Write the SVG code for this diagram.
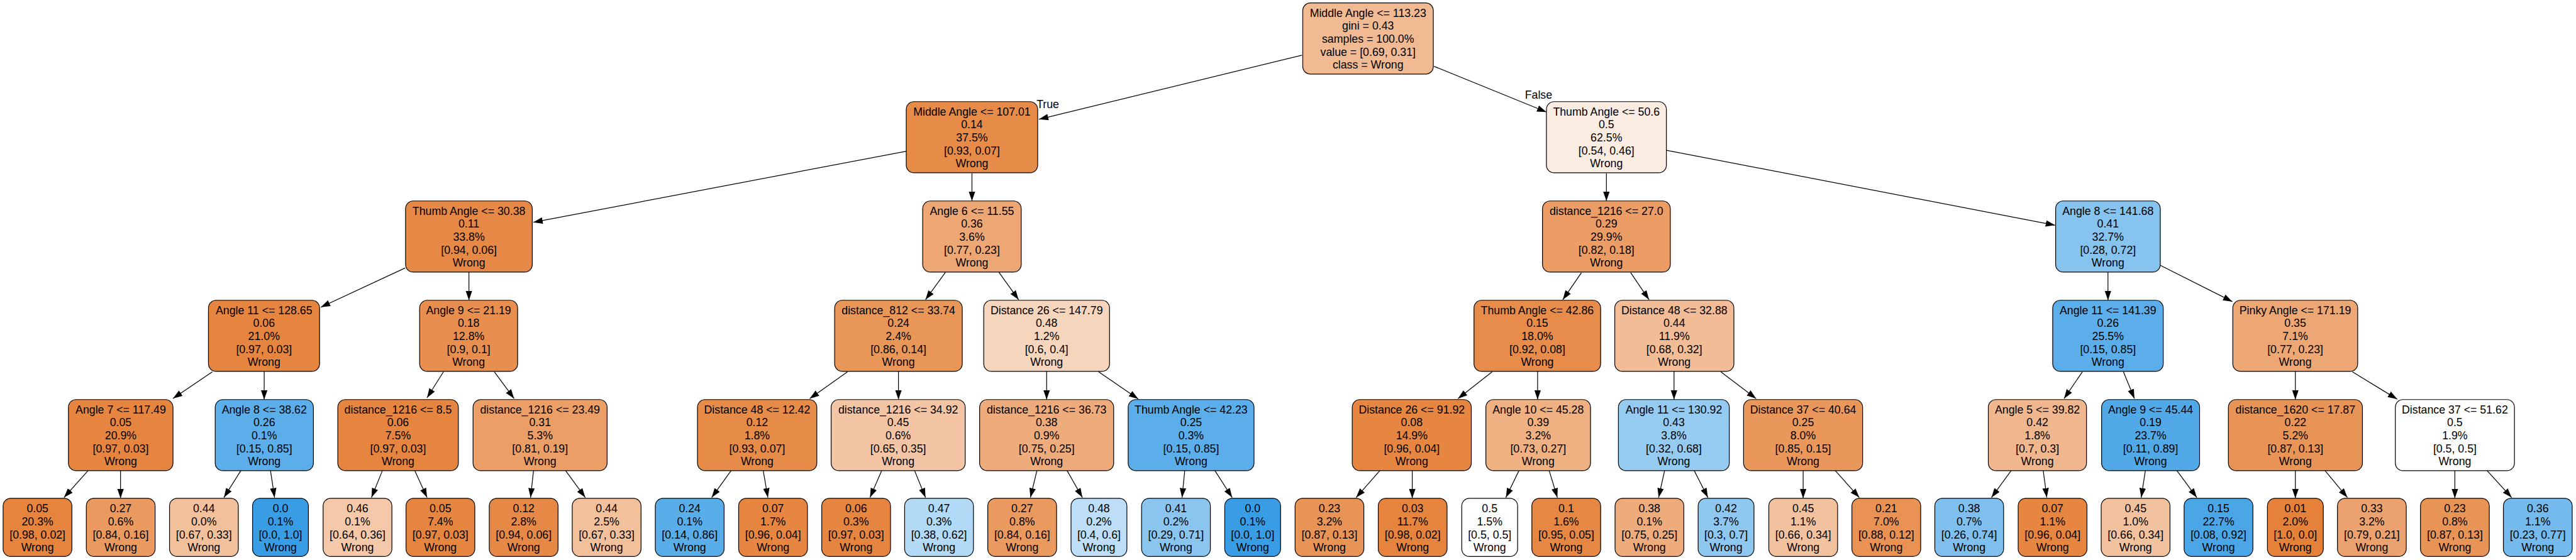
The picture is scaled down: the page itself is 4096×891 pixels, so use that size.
<svg xmlns="http://www.w3.org/2000/svg" width="4096" height="891" viewBox="0 0 4096 891">
<style>
.nd rect{stroke:#000;stroke-width:1.3}
text{font-family:"Liberation Sans",Arial,Helvetica,sans-serif;font-size:19px;fill:#000;text-anchor:middle}
.ed line{stroke:#000;stroke-width:1.3;marker-end:url(#ah)}
</style>
<defs>
<marker id="ah" markerUnits="userSpaceOnUse" markerWidth="17" markerHeight="12" refX="16" refY="5.5" orient="auto"><path d="M0,0 L16,5.5 L0,11 z" fill="#000"/></marker>
</defs>
<rect width="4096" height="891" fill="#fff"/>
<g transform="scale(0.93495)">
<g class="ed" id="connectors">
<line x1="2214.2" y1="94" x2="1767" y2="203"/>
<line x1="2439" y1="113" x2="2630" y2="190.7"/>
<line x1="1541.5" y1="257.3" x2="907" y2="378.3"/>
<line x1="1653" y1="295" x2="1653" y2="342"/>
<line x1="2732" y1="295" x2="2732" y2="342"/>
<line x1="2834" y1="255.7" x2="3495" y2="383.3"/>
<line x1="689" y1="456" x2="545.6" y2="522.7"/>
<line x1="797.5" y1="463" x2="797.5" y2="511"/>
<line x1="1608" y1="463.3" x2="1574" y2="510"/>
<line x1="1698.8" y1="463.3" x2="1732.3" y2="510"/>
<line x1="2689.5" y1="464" x2="2657.9" y2="510"/>
<line x1="2773.3" y1="464" x2="2804.5" y2="510"/>
<line x1="3585" y1="463" x2="3585" y2="511"/>
<line x1="3674.2" y1="451.7" x2="3796.6" y2="513.3"/>
<line x1="361.3" y1="632.7" x2="294.2" y2="678"/>
<line x1="449.3" y1="632" x2="449.3" y2="680"/>
<line x1="754.2" y1="632.7" x2="726.3" y2="677"/>
<line x1="840.8" y1="632.7" x2="874.3" y2="678.3"/>
<line x1="1441.4" y1="632.7" x2="1377.1" y2="678.3"/>
<line x1="1528" y1="632" x2="1528" y2="680"/>
<line x1="1780" y1="632" x2="1780" y2="680"/>
<line x1="1868.3" y1="632.7" x2="1935.8" y2="679"/>
<line x1="2537.8" y1="632.7" x2="2479.6" y2="678.3"/>
<line x1="2615" y1="632" x2="2615" y2="680"/>
<line x1="2847" y1="632" x2="2847" y2="680"/>
<line x1="2926.5" y1="632.7" x2="2986.6" y2="678.3"/>
<line x1="3541.5" y1="632.7" x2="3510.3" y2="678.3"/>
<line x1="3611.3" y1="632.7" x2="3630" y2="678.3"/>
<line x1="3903.7" y1="632" x2="3903.7" y2="680"/>
<line x1="4000.6" y1="632.7" x2="4076.9" y2="679.3"/>
<line x1="149.9" y1="800.7" x2="108.9" y2="846.7"/>
<line x1="205" y1="801" x2="205" y2="848"/>
<line x1="409.7" y1="800.7" x2="380.8" y2="846.7"/>
<line x1="460" y1="800.7" x2="467" y2="846.7"/>
<line x1="650.4" y1="800.7" x2="631.8" y2="846.7"/>
<line x1="705.3" y1="800.7" x2="726.3" y2="846.7"/>
<line x1="907.4" y1="800.7" x2="902.3" y2="846.7"/>
<line x1="961.8" y1="800.7" x2="995.4" y2="846.7"/>
<line x1="1243.5" y1="800.7" x2="1210.4" y2="846.7"/>
<line x1="1298" y1="800.7" x2="1305.9" y2="846.7"/>
<line x1="1499.6" y1="800.7" x2="1479.6" y2="846.7"/>
<line x1="1555.4" y1="800.7" x2="1574" y2="846.7"/>
<line x1="1763.5" y1="800.7" x2="1752.4" y2="846.7"/>
<line x1="1814.7" y1="800.7" x2="1840.8" y2="846.7"/>
<line x1="2014.9" y1="800.7" x2="2010.3" y2="846.7"/>
<line x1="2066.1" y1="800.7" x2="2095.5" y2="846.7"/>
<line x1="2346.9" y1="800.7" x2="2306.4" y2="846.7"/>
<line x1="2401.8" y1="801" x2="2401.8" y2="848"/>
<line x1="2583.4" y1="800.7" x2="2561" y2="846.7"/>
<line x1="2634.6" y1="800.7" x2="2648.6" y2="846.7"/>
<line x1="2831" y1="800.7" x2="2820.8" y2="846.7"/>
<line x1="2881.3" y1="800.7" x2="2904.6" y2="846.7"/>
<line x1="3066.6" y1="801" x2="3066.6" y2="848"/>
<line x1="3121.1" y1="800.7" x2="3162.1" y2="846.7"/>
<line x1="3420.5" y1="800.7" x2="3386.9" y2="846.7"/>
<line x1="3474.9" y1="800.7" x2="3481" y2="846.7"/>
<line x1="3648.6" y1="800.7" x2="3641.6" y2="846.7"/>
<line x1="3702.1" y1="800.7" x2="3736.1" y2="846.7"/>
<line x1="3903.7" y1="801" x2="3903.7" y2="848"/>
<line x1="3954" y1="800.7" x2="3992.2" y2="846.7"/>
<line x1="4175" y1="801" x2="4175" y2="848"/>
<line x1="4229.6" y1="800.7" x2="4271.5" y2="846.7"/>
<text x="1782" y="184.5">True</text>
<text x="2616.6" y="167.8">False</text>
</g>

<g class="nd" id="n0"><rect x="2215.6" y="5" width="222" height="121" rx="13" fill="#f1ba92"/><text y="28.6"><tspan x="2326.6">Middle Angle &lt;= 113.23</tspan><tspan x="2326.6" dy="22.1">gini = 0.43</tspan><tspan x="2326.6" dy="22.1">samples = 100.0%</tspan><tspan x="2326.6" dy="22.1">value = [0.69, 0.31]</tspan><tspan x="2326.6" dy="22.1">class = Wrong</tspan></text></g>

<g class="nd" id="n1"><rect x="1541.25" y="173" width="223.5" height="121" rx="13" fill="#e78b48"/><text y="196.6"><tspan x="1653">Middle Angle &lt;= 107.01</tspan><tspan x="1653" dy="22.1">0.14</tspan><tspan x="1653" dy="22.1">37.5%</tspan><tspan x="1653" dy="22.1">[0.93, 0.07]</tspan><tspan x="1653" dy="22.1">Wrong</tspan></text></g>
<g class="nd" id="n2"><rect x="2630" y="173" width="204" height="121" rx="13" fill="#fbece2"/><text y="196.6"><tspan x="2732">Thumb Angle &lt;= 50.6</tspan><tspan x="2732" dy="22.1">0.5</tspan><tspan x="2732" dy="22.1">62.5%</tspan><tspan x="2732" dy="22.1">[0.54, 0.46]</tspan><tspan x="2732" dy="22.1">Wrong</tspan></text></g>

<g class="nd" id="n3"><rect x="689.75" y="342" width="215.5" height="121" rx="13" fill="#e78946"/><text y="365.6"><tspan x="797.5">Thumb Angle &lt;= 30.38</tspan><tspan x="797.5" dy="22.1">0.11</tspan><tspan x="797.5" dy="22.1">33.8%</tspan><tspan x="797.5" dy="22.1">[0.94, 0.06]</tspan><tspan x="797.5" dy="22.1">Wrong</tspan></text></g>
<g class="nd" id="n4"><rect x="1569.2" y="342" width="167.6" height="121" rx="13" fill="#eda774"/><text y="365.6"><tspan x="1653">Angle 6 &lt;= 11.55</tspan><tspan x="1653" dy="22.1">0.36</tspan><tspan x="1653" dy="22.1">3.6%</tspan><tspan x="1653" dy="22.1">[0.77, 0.23]</tspan><tspan x="1653" dy="22.1">Wrong</tspan></text></g>
<g class="nd" id="n5"><rect x="2623.3" y="342" width="217.4" height="121" rx="13" fill="#eb9d65"/><text y="365.6"><tspan x="2732">distance_1216 &lt;= 27.0</tspan><tspan x="2732" dy="22.1">0.29</tspan><tspan x="2732" dy="22.1">29.9%</tspan><tspan x="2732" dy="22.1">[0.82, 0.18]</tspan><tspan x="2732" dy="22.1">Wrong</tspan></text></g>
<g class="nd" id="n6"><rect x="3496" y="342" width="178" height="121" rx="13" fill="#86c3ef"/><text y="365.6"><tspan x="3585">Angle 8 &lt;= 141.68</tspan><tspan x="3585" dy="22.1">0.41</tspan><tspan x="3585" dy="22.1">32.7%</tspan><tspan x="3585" dy="22.1">[0.28, 0.72]</tspan><tspan x="3585" dy="22.1">Wrong</tspan></text></g>

<g class="nd" id="n7"><rect x="354.5" y="511" width="189" height="121" rx="13" fill="#e6853f"/><text y="534.6"><tspan x="449">Angle 11 &lt;= 128.65</tspan><tspan x="449" dy="22.1">0.06</tspan><tspan x="449" dy="22.1">21.0%</tspan><tspan x="449" dy="22.1">[0.97, 0.03]</tspan><tspan x="449" dy="22.1">Wrong</tspan></text></g>
<g class="nd" id="n8"><rect x="713.65" y="511" width="166.7" height="121" rx="13" fill="#e88f4f"/><text y="534.6"><tspan x="797">Angle 9 &lt;= 21.19</tspan><tspan x="797" dy="22.1">0.18</tspan><tspan x="797" dy="22.1">12.8%</tspan><tspan x="797" dy="22.1">[0.9, 0.1]</tspan><tspan x="797" dy="22.1">Wrong</tspan></text></g>
<g class="nd" id="n9"><rect x="1419.5" y="511" width="217" height="121" rx="13" fill="#e99659"/><text y="534.6"><tspan x="1528">distance_812 &lt;= 33.74</tspan><tspan x="1528" dy="22.1">0.24</tspan><tspan x="1528" dy="22.1">2.4%</tspan><tspan x="1528" dy="22.1">[0.86, 0.14]</tspan><tspan x="1528" dy="22.1">Wrong</tspan></text></g>
<g class="nd" id="n10"><rect x="1673" y="511" width="214" height="121" rx="13" fill="#f6d5bd"/><text y="534.6"><tspan x="1780">Distance 26 &lt;= 147.79</tspan><tspan x="1780" dy="22.1">0.48</tspan><tspan x="1780" dy="22.1">1.2%</tspan><tspan x="1780" dy="22.1">[0.6, 0.4]</tspan><tspan x="1780" dy="22.1">Wrong</tspan></text></g>
<g class="nd" id="n11"><rect x="2506.8" y="511" width="215.4" height="121" rx="13" fill="#e78c4a"/><text y="534.6"><tspan x="2614.5">Thumb Angle &lt;= 42.86</tspan><tspan x="2614.5" dy="22.1">0.15</tspan><tspan x="2614.5" dy="22.1">18.0%</tspan><tspan x="2614.5" dy="22.1">[0.92, 0.08]</tspan><tspan x="2614.5" dy="22.1">Wrong</tspan></text></g>
<g class="nd" id="n12"><rect x="2746.2" y="511" width="202.6" height="121" rx="13" fill="#f1bc96"/><text y="534.6"><tspan x="2847.5">Distance 48 &lt;= 32.88</tspan><tspan x="2847.5" dy="22.1">0.44</tspan><tspan x="2847.5" dy="22.1">11.9%</tspan><tspan x="2847.5" dy="22.1">[0.68, 0.32]</tspan><tspan x="2847.5" dy="22.1">Wrong</tspan></text></g>
<g class="nd" id="n13"><rect x="3491" y="511" width="188" height="121" rx="13" fill="#5caeea"/><text y="534.6"><tspan x="3585">Angle 11 &lt;= 141.39</tspan><tspan x="3585" dy="22.1">0.26</tspan><tspan x="3585" dy="22.1">25.5%</tspan><tspan x="3585" dy="22.1">[0.15, 0.85]</tspan><tspan x="3585" dy="22.1">Wrong</tspan></text></g>
<g class="nd" id="n14"><rect x="3797.3" y="511" width="212.4" height="121" rx="13" fill="#eda774"/><text y="534.6"><tspan x="3903.5">Pinky Angle &lt;= 171.19</tspan><tspan x="3903.5" dy="22.1">0.35</tspan><tspan x="3903.5" dy="22.1">7.1%</tspan><tspan x="3903.5" dy="22.1">[0.77, 0.23]</tspan><tspan x="3903.5" dy="22.1">Wrong</tspan></text></g>

<g class="nd" id="n15"><rect x="116.4" y="680" width="177.8" height="121" rx="13" fill="#e6853f"/><text y="703.6"><tspan x="205.3">Angle 7 &lt;= 117.49</tspan><tspan x="205.3" dy="22.1">0.05</tspan><tspan x="205.3" dy="22.1">20.9%</tspan><tspan x="205.3" dy="22.1">[0.97, 0.03]</tspan><tspan x="205.3" dy="22.1">Wrong</tspan></text></g>
<g class="nd" id="n16"><rect x="366" y="680" width="167" height="121" rx="13" fill="#5caeea"/><text y="703.6"><tspan x="449.5">Angle 8 &lt;= 38.62</tspan><tspan x="449.5" dy="22.1">0.26</tspan><tspan x="449.5" dy="22.1">0.1%</tspan><tspan x="449.5" dy="22.1">[0.15, 0.85]</tspan><tspan x="449.5" dy="22.1">Wrong</tspan></text></g>
<g class="nd" id="n17"><rect x="574.5" y="680" width="205" height="121" rx="13" fill="#e6853f"/><text y="703.6"><tspan x="677">distance_1216 &lt;= 8.5</tspan><tspan x="677" dy="22.1">0.06</tspan><tspan x="677" dy="22.1">7.5%</tspan><tspan x="677" dy="22.1">[0.97, 0.03]</tspan><tspan x="677" dy="22.1">Wrong</tspan></text></g>
<g class="nd" id="n18"><rect x="804.5" y="680" width="228" height="121" rx="13" fill="#eb9f67"/><text y="703.6"><tspan x="918.5">distance_1216 &lt;= 23.49</tspan><tspan x="918.5" dy="22.1">0.31</tspan><tspan x="918.5" dy="22.1">5.3%</tspan><tspan x="918.5" dy="22.1">[0.81, 0.19]</tspan><tspan x="918.5" dy="22.1">Wrong</tspan></text></g>
<g class="nd" id="n19"><rect x="1186.2" y="680" width="203" height="121" rx="13" fill="#e78b48"/><text y="703.6"><tspan x="1287.7">Distance 48 &lt;= 12.42</tspan><tspan x="1287.7" dy="22.1">0.12</tspan><tspan x="1287.7" dy="22.1">1.8%</tspan><tspan x="1287.7" dy="22.1">[0.93, 0.07]</tspan><tspan x="1287.7" dy="22.1">Wrong</tspan></text></g>
<g class="nd" id="n20"><rect x="1413.5" y="680" width="228" height="121" rx="13" fill="#f3c5a4"/><text y="703.6"><tspan x="1527.5">distance_1216 &lt;= 34.92</tspan><tspan x="1527.5" dy="22.1">0.45</tspan><tspan x="1527.5" dy="22.1">0.6%</tspan><tspan x="1527.5" dy="22.1">[0.65, 0.35]</tspan><tspan x="1527.5" dy="22.1">Wrong</tspan></text></g>
<g class="nd" id="n21"><rect x="1666" y="680" width="228" height="121" rx="13" fill="#eeab7b"/><text y="703.6"><tspan x="1780">distance_1216 &lt;= 36.73</tspan><tspan x="1780" dy="22.1">0.38</tspan><tspan x="1780" dy="22.1">0.9%</tspan><tspan x="1780" dy="22.1">[0.75, 0.25]</tspan><tspan x="1780" dy="22.1">Wrong</tspan></text></g>
<g class="nd" id="n22"><rect x="1918.7" y="680" width="214" height="121" rx="13" fill="#5caeea"/><text y="703.6"><tspan x="2025.7">Thumb Angle &lt;= 42.23</tspan><tspan x="2025.7" dy="22.1">0.25</tspan><tspan x="2025.7" dy="22.1">0.3%</tspan><tspan x="2025.7" dy="22.1">[0.15, 0.85]</tspan><tspan x="2025.7" dy="22.1">Wrong</tspan></text></g>
<g class="nd" id="n23"><rect x="2299.75" y="680" width="202.5" height="121" rx="13" fill="#e68641"/><text y="703.6"><tspan x="2401">Distance 26 &lt;= 91.92</tspan><tspan x="2401" dy="22.1">0.08</tspan><tspan x="2401" dy="22.1">14.9%</tspan><tspan x="2401" dy="22.1">[0.96, 0.04]</tspan><tspan x="2401" dy="22.1">Wrong</tspan></text></g>
<g class="nd" id="n24"><rect x="2527" y="680" width="178" height="121" rx="13" fill="#efb082"/><text y="703.6"><tspan x="2616">Angle 10 &lt;= 45.28</tspan><tspan x="2616" dy="22.1">0.39</tspan><tspan x="2616" dy="22.1">3.2%</tspan><tspan x="2616" dy="22.1">[0.73, 0.27]</tspan><tspan x="2616" dy="22.1">Wrong</tspan></text></g>
<g class="nd" id="n25"><rect x="2752.4" y="680" width="188.6" height="121" rx="13" fill="#96cbf1"/><text y="703.6"><tspan x="2846.7">Angle 11 &lt;= 130.92</tspan><tspan x="2846.7" dy="22.1">0.43</tspan><tspan x="2846.7" dy="22.1">3.8%</tspan><tspan x="2846.7" dy="22.1">[0.32, 0.68]</tspan><tspan x="2846.7" dy="22.1">Wrong</tspan></text></g>
<g class="nd" id="n26"><rect x="2965.25" y="680" width="202.5" height="121" rx="13" fill="#ea975c"/><text y="703.6"><tspan x="3066.5">Distance 37 &lt;= 40.64</tspan><tspan x="3066.5" dy="22.1">0.25</tspan><tspan x="3066.5" dy="22.1">8.0%</tspan><tspan x="3066.5" dy="22.1">[0.85, 0.15]</tspan><tspan x="3066.5" dy="22.1">Wrong</tspan></text></g>
<g class="nd" id="n27"><rect x="3381.5" y="680" width="167" height="121" rx="13" fill="#f0b78e"/><text y="703.6"><tspan x="3465">Angle 5 &lt;= 39.82</tspan><tspan x="3465" dy="22.1">0.42</tspan><tspan x="3465" dy="22.1">1.8%</tspan><tspan x="3465" dy="22.1">[0.7, 0.3]</tspan><tspan x="3465" dy="22.1">Wrong</tspan></text></g>
<g class="nd" id="n28"><rect x="3574.15" y="680" width="166.7" height="121" rx="13" fill="#52a9e8"/><text y="703.6"><tspan x="3657.5">Angle 9 &lt;= 45.44</tspan><tspan x="3657.5" dy="22.1">0.19</tspan><tspan x="3657.5" dy="22.1">23.7%</tspan><tspan x="3657.5" dy="22.1">[0.11, 0.89]</tspan><tspan x="3657.5" dy="22.1">Wrong</tspan></text></g>
<g class="nd" id="n29"><rect x="3789.8" y="680" width="228" height="121" rx="13" fill="#e99457"/><text y="703.6"><tspan x="3903.8">distance_1620 &lt;= 17.87</tspan><tspan x="3903.8" dy="22.1">0.22</tspan><tspan x="3903.8" dy="22.1">5.2%</tspan><tspan x="3903.8" dy="22.1">[0.87, 0.13]</tspan><tspan x="3903.8" dy="22.1">Wrong</tspan></text></g>
<g class="nd" id="n30"><rect x="4073.7" y="680" width="202.6" height="121" rx="13" fill="#ffffff"/><text y="703.6"><tspan x="4175">Distance 37 &lt;= 51.62</tspan><tspan x="4175" dy="22.1">0.5</tspan><tspan x="4175" dy="22.1">1.9%</tspan><tspan x="4175" dy="22.1">[0.5, 0.5]</tspan><tspan x="4175" dy="22.1">Wrong</tspan></text></g>

<g class="nd" id="l1"><rect x="5.3" y="848" width="117" height="99" rx="13" fill="#e6843d"/><text y="872.2"><tspan x="63.8">0.05</tspan><tspan x="63.8" dy="22.1">20.3%</tspan><tspan x="63.8" dy="22.1">[0.98, 0.02]</tspan><tspan x="63.8" dy="22.1">Wrong</tspan></text></g>
<g class="nd" id="l2"><rect x="146.8" y="848" width="117" height="99" rx="13" fill="#ea995f"/><text y="872.2"><tspan x="205.3">0.27</tspan><tspan x="205.3" dy="22.1">0.6%</tspan><tspan x="205.3" dy="22.1">[0.84, 0.16]</tspan><tspan x="205.3" dy="22.1">Wrong</tspan></text></g>
<g class="nd" id="l3"><rect x="288.3" y="848" width="117" height="99" rx="13" fill="#f2c09b"/><text y="872.2"><tspan x="346.8">0.44</tspan><tspan x="346.8" dy="22.1">0.0%</tspan><tspan x="346.8" dy="22.1">[0.67, 0.33]</tspan><tspan x="346.8" dy="22.1">Wrong</tspan></text></g>
<g class="nd" id="l4"><rect x="429.5" y="848" width="95" height="99" rx="13" fill="#399de5"/><text y="872.2"><tspan x="477">0.0</tspan><tspan x="477" dy="22.1">0.1%</tspan><tspan x="477" dy="22.1">[0.0, 1.0]</tspan><tspan x="477" dy="22.1">Wrong</tspan></text></g>
<g class="nd" id="l5"><rect x="549.5" y="848" width="117" height="99" rx="13" fill="#f4c8a8"/><text y="872.2"><tspan x="608">0.46</tspan><tspan x="608" dy="22.1">0.1%</tspan><tspan x="608" dy="22.1">[0.64, 0.36]</tspan><tspan x="608" dy="22.1">Wrong</tspan></text></g>
<g class="nd" id="l6"><rect x="690.5" y="848" width="117" height="99" rx="13" fill="#e6853f"/><text y="872.2"><tspan x="749">0.05</tspan><tspan x="749" dy="22.1">7.4%</tspan><tspan x="749" dy="22.1">[0.97, 0.03]</tspan><tspan x="749" dy="22.1">Wrong</tspan></text></g>
<g class="nd" id="l7"><rect x="832.1" y="848" width="117" height="99" rx="13" fill="#e78946"/><text y="872.2"><tspan x="890.6">0.12</tspan><tspan x="890.6" dy="22.1">2.8%</tspan><tspan x="890.6" dy="22.1">[0.94, 0.06]</tspan><tspan x="890.6" dy="22.1">Wrong</tspan></text></g>
<g class="nd" id="l8"><rect x="973.2" y="848" width="117" height="99" rx="13" fill="#f2c09b"/><text y="872.2"><tspan x="1031.7">0.44</tspan><tspan x="1031.7" dy="22.1">2.5%</tspan><tspan x="1031.7" dy="22.1">[0.67, 0.33]</tspan><tspan x="1031.7" dy="22.1">Wrong</tspan></text></g>
<g class="nd" id="l9"><rect x="1114.5" y="848" width="117" height="99" rx="13" fill="#59ade9"/><text y="872.2"><tspan x="1173">0.24</tspan><tspan x="1173" dy="22.1">0.1%</tspan><tspan x="1173" dy="22.1">[0.14, 0.86]</tspan><tspan x="1173" dy="22.1">Wrong</tspan></text></g>
<g class="nd" id="l10"><rect x="1256.2" y="848" width="117" height="99" rx="13" fill="#e68641"/><text y="872.2"><tspan x="1314.7">0.07</tspan><tspan x="1314.7" dy="22.1">1.7%</tspan><tspan x="1314.7" dy="22.1">[0.96, 0.04]</tspan><tspan x="1314.7" dy="22.1">Wrong</tspan></text></g>
<g class="nd" id="l11"><rect x="1397.5" y="848" width="117" height="99" rx="13" fill="#e6853f"/><text y="872.2"><tspan x="1456">0.06</tspan><tspan x="1456" dy="22.1">0.3%</tspan><tspan x="1456" dy="22.1">[0.97, 0.03]</tspan><tspan x="1456" dy="22.1">Wrong</tspan></text></g>
<g class="nd" id="l12"><rect x="1538.5" y="848" width="117" height="99" rx="13" fill="#b2d9f5"/><text y="872.2"><tspan x="1597">0.47</tspan><tspan x="1597" dy="22.1">0.3%</tspan><tspan x="1597" dy="22.1">[0.38, 0.62]</tspan><tspan x="1597" dy="22.1">Wrong</tspan></text></g>
<g class="nd" id="l13"><rect x="1679.9" y="848" width="117" height="99" rx="13" fill="#ea995f"/><text y="872.2"><tspan x="1738.4">0.27</tspan><tspan x="1738.4" dy="22.1">0.8%</tspan><tspan x="1738.4" dy="22.1">[0.84, 0.16]</tspan><tspan x="1738.4" dy="22.1">Wrong</tspan></text></g>
<g class="nd" id="l14"><rect x="1821.5" y="848" width="95" height="99" rx="13" fill="#bddef6"/><text y="872.2"><tspan x="1869">0.48</tspan><tspan x="1869" dy="22.1">0.2%</tspan><tspan x="1869" dy="22.1">[0.4, 0.6]</tspan><tspan x="1869" dy="22.1">Wrong</tspan></text></g>
<g class="nd" id="l15"><rect x="1941.5" y="848" width="117" height="99" rx="13" fill="#8ac5f0"/><text y="872.2"><tspan x="2000">0.41</tspan><tspan x="2000" dy="22.1">0.2%</tspan><tspan x="2000" dy="22.1">[0.29, 0.71]</tspan><tspan x="2000" dy="22.1">Wrong</tspan></text></g>
<g class="nd" id="l16"><rect x="2082.9" y="848" width="95" height="99" rx="13" fill="#399de5"/><text y="872.2"><tspan x="2130.4">0.0</tspan><tspan x="2130.4" dy="22.1">0.1%</tspan><tspan x="2130.4" dy="22.1">[0.0, 1.0]</tspan><tspan x="2130.4" dy="22.1">Wrong</tspan></text></g>
<g class="nd" id="l17"><rect x="2202.5" y="848" width="117" height="99" rx="13" fill="#e99457"/><text y="872.2"><tspan x="2261">0.23</tspan><tspan x="2261" dy="22.1">3.2%</tspan><tspan x="2261" dy="22.1">[0.87, 0.13]</tspan><tspan x="2261" dy="22.1">Wrong</tspan></text></g>
<g class="nd" id="l18"><rect x="2344" y="848" width="117" height="99" rx="13" fill="#e6843d"/><text y="872.2"><tspan x="2402.5">0.03</tspan><tspan x="2402.5" dy="22.1">11.7%</tspan><tspan x="2402.5" dy="22.1">[0.98, 0.02]</tspan><tspan x="2402.5" dy="22.1">Wrong</tspan></text></g>
<g class="nd" id="l19"><rect x="2486" y="848" width="95" height="99" rx="13" fill="#ffffff"/><text y="872.2"><tspan x="2533.5">0.5</tspan><tspan x="2533.5" dy="22.1">1.5%</tspan><tspan x="2533.5" dy="22.1">[0.5, 0.5]</tspan><tspan x="2533.5" dy="22.1">Wrong</tspan></text></g>
<g class="nd" id="l20"><rect x="2605.2" y="848" width="117" height="99" rx="13" fill="#e68843"/><text y="872.2"><tspan x="2663.7">0.1</tspan><tspan x="2663.7" dy="22.1">1.6%</tspan><tspan x="2663.7" dy="22.1">[0.95, 0.05]</tspan><tspan x="2663.7" dy="22.1">Wrong</tspan></text></g>
<g class="nd" id="l21"><rect x="2746.7" y="848" width="117" height="99" rx="13" fill="#eeab7b"/><text y="872.2"><tspan x="2805.2">0.38</tspan><tspan x="2805.2" dy="22.1">0.1%</tspan><tspan x="2805.2" dy="22.1">[0.75, 0.25]</tspan><tspan x="2805.2" dy="22.1">Wrong</tspan></text></g>
<g class="nd" id="l22"><rect x="2888" y="848" width="95" height="99" rx="13" fill="#8ec7f0"/><text y="872.2"><tspan x="2935.5">0.42</tspan><tspan x="2935.5" dy="22.1">3.7%</tspan><tspan x="2935.5" dy="22.1">[0.3, 0.7]</tspan><tspan x="2935.5" dy="22.1">Wrong</tspan></text></g>
<g class="nd" id="l23"><rect x="3008.2" y="848" width="117" height="99" rx="13" fill="#f2c29f"/><text y="872.2"><tspan x="3066.7">0.45</tspan><tspan x="3066.7" dy="22.1">1.1%</tspan><tspan x="3066.7" dy="22.1">[0.66, 0.34]</tspan><tspan x="3066.7" dy="22.1">Wrong</tspan></text></g>
<g class="nd" id="l24"><rect x="3149.5" y="848" width="117" height="99" rx="13" fill="#e99254"/><text y="872.2"><tspan x="3208">0.21</tspan><tspan x="3208" dy="22.1">7.0%</tspan><tspan x="3208" dy="22.1">[0.88, 0.12]</tspan><tspan x="3208" dy="22.1">Wrong</tspan></text></g>
<g class="nd" id="l25"><rect x="3290.5" y="848" width="117" height="99" rx="13" fill="#7fbfee"/><text y="872.2"><tspan x="3349">0.38</tspan><tspan x="3349" dy="22.1">0.7%</tspan><tspan x="3349" dy="22.1">[0.26, 0.74]</tspan><tspan x="3349" dy="22.1">Wrong</tspan></text></g>
<g class="nd" id="l26"><rect x="3432.3" y="848" width="117" height="99" rx="13" fill="#e68641"/><text y="872.2"><tspan x="3490.8">0.07</tspan><tspan x="3490.8" dy="22.1">1.1%</tspan><tspan x="3490.8" dy="22.1">[0.96, 0.04]</tspan><tspan x="3490.8" dy="22.1">Wrong</tspan></text></g>
<g class="nd" id="l27"><rect x="3573.5" y="848" width="117" height="99" rx="13" fill="#f2c29f"/><text y="872.2"><tspan x="3632">0.45</tspan><tspan x="3632" dy="22.1">1.0%</tspan><tspan x="3632" dy="22.1">[0.66, 0.34]</tspan><tspan x="3632" dy="22.1">Wrong</tspan></text></g>
<g class="nd" id="l28"><rect x="3714.5" y="848" width="117" height="99" rx="13" fill="#4aa6e7"/><text y="872.2"><tspan x="3773">0.15</tspan><tspan x="3773" dy="22.1">22.7%</tspan><tspan x="3773" dy="22.1">[0.08, 0.92]</tspan><tspan x="3773" dy="22.1">Wrong</tspan></text></g>
<g class="nd" id="l29"><rect x="3856.2" y="848" width="95" height="99" rx="13" fill="#e58139"/><text y="872.2"><tspan x="3903.7">0.01</tspan><tspan x="3903.7" dy="22.1">2.0%</tspan><tspan x="3903.7" dy="22.1">[1.0, 0.0]</tspan><tspan x="3903.7" dy="22.1">Wrong</tspan></text></g>
<g class="nd" id="l30"><rect x="3975.3" y="848" width="117" height="99" rx="13" fill="#eca26e"/><text y="872.2"><tspan x="4033.8">0.33</tspan><tspan x="4033.8" dy="22.1">3.2%</tspan><tspan x="4033.8" dy="22.1">[0.79, 0.21]</tspan><tspan x="4033.8" dy="22.1">Wrong</tspan></text></g>
<g class="nd" id="l31"><rect x="4116.5" y="848" width="117" height="99" rx="13" fill="#e99457"/><text y="872.2"><tspan x="4175">0.23</tspan><tspan x="4175" dy="22.1">0.8%</tspan><tspan x="4175" dy="22.1">[0.87, 0.13]</tspan><tspan x="4175" dy="22.1">Wrong</tspan></text></g>
<g class="nd" id="l32"><rect x="4257.5" y="848" width="117" height="99" rx="13" fill="#74baed"/><text y="872.2"><tspan x="4316">0.36</tspan><tspan x="4316" dy="22.1">1.1%</tspan><tspan x="4316" dy="22.1">[0.23, 0.77]</tspan><tspan x="4316" dy="22.1">Wrong</tspan></text></g>
</g>
</svg>
